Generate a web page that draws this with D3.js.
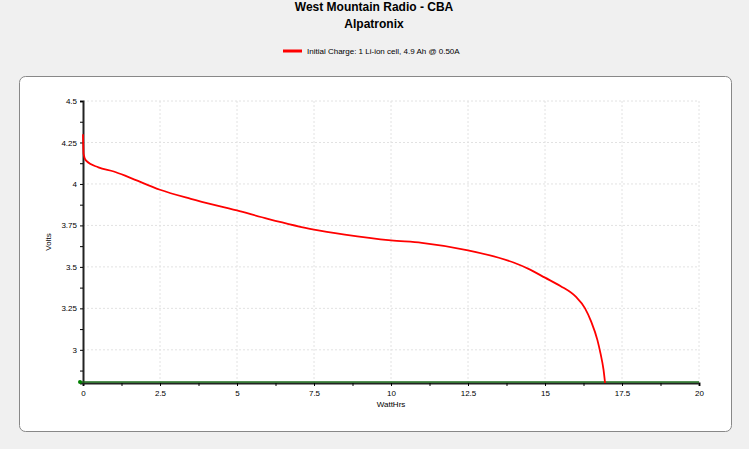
<!DOCTYPE html>
<html><head><meta charset="utf-8">
<script src="https://cdn.jsdelivr.net/npm/d3@7"></script>
<style>body{margin:0;background:#f0f0f0;font-family:"Liberation Sans",Arial,sans-serif;}</style>
</head><body><svg id="c" width="749" height="449"></svg>
<script>
// discharge curve
const wattHrs = [0, 0.02, 0.1, 0.5, 1, 1.5, 2.5, 3.5, 5, 6, 7.5, 8.5, 10, 11, 12.5, 13.5, 14, 14.5, 15, 15.5, 16, 16.3, 16.5, 16.7, 16.8, 16.9, 16.95];
const volts = [4.3, 4.18, 4.14, 4.10, 4.075, 4.04, 3.965, 3.91, 3.84, 3.79, 3.725, 3.695, 3.66, 3.645, 3.60, 3.555, 3.525, 3.485, 3.435, 3.385, 3.32, 3.25, 3.17, 3.06, 2.98, 2.88, 2.8];
const xTicks = [0, 2.5, 5, 7.5, 10, 12.5, 15, 17.5, 20];
const yTicks = [3, 3.25, 3.5, 3.75, 4, 4.25, 4.5];

const svg = d3.select('#c');
svg.append('rect').attr('x', 19.5).attr('y', 76.5).attr('width', 712).attr('height', 355)
    .attr('rx', 6).attr('fill', '#fff').attr('stroke', '#888');

svg.append('text').attr('x', 374).attr('y', 11).attr('text-anchor', 'middle')
    .attr('font-weight', 'bold').attr('font-size', 12).text('West Mountain Radio - CBA');
svg.append('text').attr('x', 374).attr('y', 28).attr('text-anchor', 'middle')
    .attr('font-weight', 'bold').attr('font-size', 12).text('Alpatronix');
svg.append('line').attr('x1', 283).attr('x2', 302).attr('y1', 51).attr('y2', 51)
    .attr('stroke', 'red').attr('stroke-width', 3);
svg.append('text').attr('x', 307).attr('y', 54).attr('font-size', 8)
    .text('Initial Charge: 1 Li-ion cell, 4.9 Ah @ 0.50A');

const x = d3.scaleLinear().domain([0, 20]).range([83, 699]);
const y = d3.scaleLinear().domain([2.8, 4.5]).range([383, 101]);

// grid
svg.append('g').selectAll('line').data(xTicks.slice(1)).enter().append('line')
    .attr('x1', d => x(d)).attr('x2', d => x(d)).attr('y1', 101).attr('y2', 383)
    .attr('stroke', '#e2e2e2').attr('stroke-dasharray', '2,2');
svg.append('g').selectAll('line').data(yTicks).enter().append('line')
    .attr('x1', 83).attr('x2', 699).attr('y1', d => y(d)).attr('y2', d => y(d))
    .attr('stroke', '#e2e2e2').attr('stroke-dasharray', '2,2');

const ax = svg.append('g').attr('transform', 'translate(0,383)')
    .call(d3.axisBottom(x).tickValues(d3.range(0, 20.01, 1.25)).tickSize(3)
        .tickFormat(d => xTicks.includes(d) ? d : ''));
ax.select('.domain').attr('stroke', '#222').attr('stroke-width', 2);
ax.selectAll('text').attr('font-size', 8).attr('font-family', 'Liberation Sans').attr('dy', '0.9em');

const ay = svg.append('g').attr('transform', 'translate(83,0)')
    .call(d3.axisLeft(y).tickValues(d3.range(2.875, 4.51, 0.125)).tickSize(3)
        .tickFormat(d => yTicks.some(t => Math.abs(t - d) < 1e-6) ? d : ''));
ay.select('.domain').attr('stroke', '#222').attr('stroke-width', 2);
ay.selectAll('text').attr('font-size', 8).attr('font-family', 'Liberation Sans');

svg.append('text').attr('x', 391).attr('y', 407).attr('text-anchor', 'middle').attr('font-size', 8).text('WattHrs');
svg.append('text').attr('transform', 'translate(51,242) rotate(-90)').attr('text-anchor', 'middle')
    .attr('font-size', 8).text('Volts');

// green baseline
svg.append('line').attr('x1', 79).attr('x2', 699).attr('y1', 382).attr('y2', 382)
    .attr('stroke', '#1a6b1a').attr('stroke-width', 1.5);
svg.append('circle').attr('cx', 80).attr('cy', 382).attr('r', 2).attr('fill', 'green');

svg.append('path').datum(wattHrs.map((w, i) => [w, volts[i]]))
    .attr('fill', 'none').attr('stroke', 'red').attr('stroke-width', 1.8)
    .attr('d', d3.line().x(d => x(d[0])).y(d => y(d[1])).curve(d3.curveMonotoneX));
</script></body></html>
